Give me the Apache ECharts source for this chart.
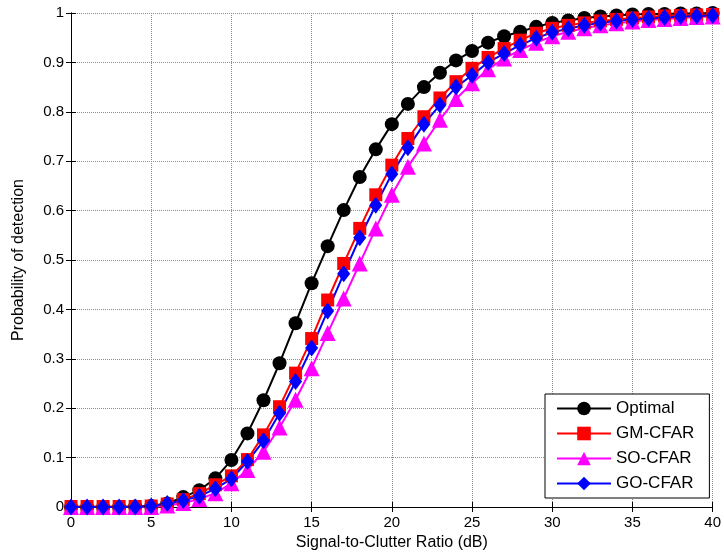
<!DOCTYPE html>
<html>
<head>
<meta charset="utf-8">
<script src="https://cdn.jsdelivr.net/npm/echarts@6/dist/echarts.min.js"></script>
<style>
  html, body { margin: 0; padding: 0; background: #fff; }
  #main { width: 724px; height: 557px; }
</style>
</head>
<body>
<div id="main"></div>
<script>
var snr = [0,1,2,3,4,5,6,7,8,9,10,11,12,13,14,15,16,17,18,19,20,21,22,23,24,25,26,27,28,29,30,31,32,33,34,35,36,37,38,39,40];

var optimal = [0,0,0,0,0.001,0.002,0.007,0.02,0.034,0.058,0.095,0.149,0.216,0.291,0.372,0.453,0.528,0.601,0.668,0.724,0.775,0.816,0.85,0.879,0.904,0.923,0.94,0.953,0.962,0.972,0.98,0.985,0.99,0.993,0.995,0.997,0.998,0.998,0.999,0.999,1.0];
var gmCfar = [0.001,0.001,0.001,0.001,0.001,0.002,0.006,0.015,0.027,0.045,0.063,0.096,0.146,0.203,0.271,0.341,0.419,0.493,0.564,0.632,0.692,0.746,0.79,0.828,0.861,0.888,0.91,0.928,0.945,0.959,0.969,0.975,0.98,0.984,0.987,0.99,0.992,0.994,0.995,0.996,0.997];
var soCfar = [0,0,0,0,0,0,0.003,0.008,0.016,0.028,0.048,0.075,0.112,0.161,0.217,0.281,0.352,0.422,0.493,0.564,0.632,0.689,0.736,0.784,0.826,0.858,0.886,0.908,0.925,0.94,0.953,0.962,0.969,0.975,0.979,0.983,0.986,0.988,0.99,0.992,0.993];
var goCfar = [0,0,0,0,0,0.002,0.007,0.013,0.022,0.037,0.057,0.092,0.134,0.19,0.254,0.322,0.397,0.472,0.545,0.611,0.674,0.727,0.775,0.814,0.85,0.874,0.9,0.918,0.935,0.949,0.961,0.968,0.975,0.98,0.984,0.987,0.989,0.991,0.993,0.994,0.995];

var font = 'Liberation Sans, Arial, sans-serif';

function pairs(values) {
  var out = [];
  for (var i = 0; i < snr.length; i++) {
    out.push([snr[i], values[i]]);
  }
  return out;
}

function makeSeries(name, values, color, symbol, size) {
  return {
    name: name,
    type: 'line',
    data: pairs(values),
    symbol: symbol,
    symbolSize: size,
    showAllSymbol: true,
    lineStyle: { color: color, width: 2 },
    itemStyle: { color: color },
    emphasis: { disabled: true },
    animation: false
  };
}

var boxAxis = {
  show: true,
  axisLine: { show: true, lineStyle: { color: '#000', width: 1 } },
  axisTick: { show: true, inside: true, length: 5, lineStyle: { color: '#000' } },
  axisLabel: { show: false },
  splitLine: { show: false }
};

var myChart = echarts.init(document.getElementById('main'));
myChart.setOption({
  backgroundColor: '#fff',
  grid: { left: 71, right: 9, top: 13, bottom: 50 },
  legend: {
    orient: 'vertical',
    left: 545,
    top: 394,
    padding: [6, 15, 6, 11],
    itemWidth: 54,
    itemHeight: 17,
    itemGap: 8,
    backgroundColor: '#fff',
    borderColor: '#000',
    borderWidth: 1,
    textStyle: { fontFamily: font, fontSize: 17, color: '#000' },
    data: ['Optimal', 'GM-CFAR', 'SO-CFAR', 'GO-CFAR']
  },
  xAxis: [
    {
      type: 'value',
      min: 0,
      max: 40,
      interval: 5,
      name: 'Signal-to-Clutter Ratio (dB)',
      nameLocation: 'middle',
      nameGap: 28,
      nameTextStyle: { fontFamily: font, fontSize: 16, color: '#000' },
      axisLine: { show: true, onZero: false, lineStyle: { color: '#000', width: 1 } },
      axisTick: { show: true, inside: true, length: 5, lineStyle: { color: '#000' } },
      axisLabel: { fontFamily: font, fontSize: 15, color: '#000', margin: 8 },
      splitLine: { show: true, lineStyle: { color: '#8c8c8c', type: 'dotted', width: 1 } }
    },
    Object.assign({ type: 'value', min: 0, max: 40, interval: 5, position: 'top' }, boxAxis)
  ],
  yAxis: [
    {
      type: 'value',
      min: 0,
      max: 1,
      interval: 0.1,
      name: 'Probability of detection',
      nameLocation: 'middle',
      nameGap: 44,
      nameTextStyle: { fontFamily: font, fontSize: 16, color: '#000' },
      axisLine: { show: true, onZero: false, lineStyle: { color: '#000', width: 1 } },
      axisTick: { show: true, inside: true, length: 5, lineStyle: { color: '#000' } },
      axisLabel: { fontFamily: font, fontSize: 15, color: '#000', margin: 7 },
      splitLine: { show: true, lineStyle: { color: '#8c8c8c', type: 'dotted', width: 1 } }
    },
    Object.assign({ type: 'value', min: 0, max: 1, interval: 0.1, position: 'right' }, boxAxis)
  ],
  series: [
    makeSeries('Optimal', optimal, '#000000', 'circle', 14),
    makeSeries('GM-CFAR', gmCfar, '#ff0000', 'rect', 13),
    makeSeries('SO-CFAR', soCfar, '#ff00ff', 'triangle', 16),
    makeSeries('GO-CFAR', goCfar, '#0000ff', 'diamond', [13, 17])
  ]
});
</script>
</body>
</html>
